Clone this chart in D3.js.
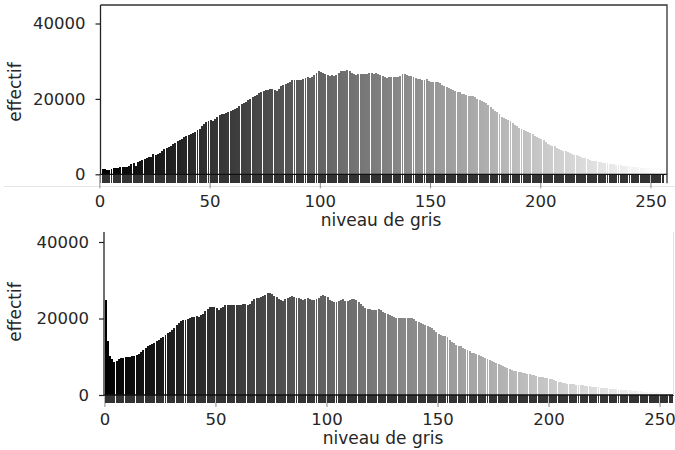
<!DOCTYPE html>
<html>
<head>
<meta charset="utf-8">
<script src="https://cdn.jsdelivr.net/npm/d3@7"></script>
<style>
  body { margin: 0; background: #fff; }
  svg text { font-family: "DejaVu Sans", sans-serif; fill: #262626; }
</style>
</head>
<body>
<svg id="chart" width="675" height="450"></svg>
<script>
// Gray levels 0..255 (one bar per level)
const grayLevels = d3.range(256);

// Pixel counts per gray level, first image
const countsA = [
  1600,1500,1400,1200,1100,1300,1700,1800,1800,1900,2000,2000,2000,2200,2700,2900,
  2300,3200,3500,3800,4000,4300,4500,4600,5300,5100,5400,5600,6300,6700,7000,7300,
  7600,8000,8400,8800,9000,9400,9800,10200,10500,10700,10900,11300,11700,12100,12800,13400,
  13900,14100,14300,14200,14700,15100,15600,16000,16100,16300,16600,16900,17100,17300,17700,18200,
  18600,19000,19300,19700,20000,20400,20800,21100,21500,21900,22200,22300,22400,22600,22500,22400,
  22200,22700,23300,23700,24000,24200,24600,24900,25000,24900,25000,25100,25300,25500,25700,25600,
  25800,26400,27000,27300,27200,26900,26700,26400,26200,26300,26200,26400,26900,27300,27500,27300,
  27600,27400,26800,26500,26400,26600,26700,26700,26500,26700,27000,26800,26500,26800,26700,26400,
  26000,25700,25600,25700,25800,25900,25800,25900,26200,26700,26600,26400,26200,26000,25800,25500,
  25300,25300,25000,25100,25300,24800,24500,24400,24600,24500,24200,23800,23500,23200,23000,22700,
  22400,22200,21900,21700,21400,21200,21000,20900,20800,20700,20400,19900,19600,19400,19200,18900,
  18400,17900,17400,16900,16400,16000,15300,14900,14600,14400,14100,13600,13200,12800,12400,12000,
  11700,11400,11200,10900,10600,10200,9800,9600,9400,9100,8600,8100,7800,7600,7500,7000,
  6700,6400,6300,6100,5900,5700,5500,5200,5000,4800,4600,4400,4200,4000,3800,3600,
  3500,3400,3300,3200,3100,3000,2900,2800,2700,2600,2500,2400,2400,2300,2200,2200,
  2100,2000,2000,1900,1900,1800,1800,1800,1700,1700,1700,1600,1600,1600,1500,1500
];

// Pixel counts per gray level, second image
const countsB = [
  24800,14000,10200,9300,8700,9000,9400,9600,9700,9900,10000,10000,10100,10200,10400,10700,
  11200,11700,12200,12800,13100,13400,13600,14000,14500,14900,15200,15600,16100,16600,16900,17500,
  18300,18900,19300,19600,19700,19800,20100,20400,20500,20600,20500,20900,21300,21900,22500,22900,
  23000,22900,22700,22300,22700,23100,23400,23500,23500,23400,23500,23600,23500,23600,23800,23700,
  23500,23800,24600,25000,25300,25400,25600,25900,26200,26600,26700,26400,26000,25600,25100,24800,
  24500,25000,25400,25700,25800,25600,25400,25300,25100,24900,25100,25300,25200,24900,24800,25000,
  25300,25900,26200,25900,25500,24800,24500,24400,24300,24600,24900,25000,24700,24600,24800,25000,
  25100,24800,24200,23700,23200,22800,22600,22400,22300,22200,22300,22400,22200,21800,21500,21200,
  20900,20600,20400,20200,20200,20200,20200,20200,20200,20200,20100,19800,19400,19200,18900,18500,
  18200,18100,17800,17400,17100,16600,16000,15700,15500,15400,15200,14500,13900,13600,13200,12900,
  12700,12200,11900,11700,11400,11100,10900,10600,10400,10200,9900,9700,9400,9100,8800,8600,
  8300,8000,7800,7500,7300,7100,6800,6500,6300,6200,6000,5900,5800,5700,5600,5500,
  5300,5100,4900,4800,4700,4600,4500,4400,4300,4100,3900,3700,3500,3300,3200,3100,
  3000,2900,2800,2800,2700,2700,2600,2500,2400,2400,2300,2200,2200,2100,2000,1900,
  1800,1800,1700,1600,1600,1500,1500,1400,1400,1300,1300,1200,1200,1100,1100,1000,
  1000,1000,900,900,900,800,800,800,700,700,700,600,600,600,500,500
];

const xTickValues = [0, 50, 100, 150, 200, 250];
const yTickValues = [0, 20000, 40000];
const xLabel = "niveau de gris";
const yLabel = "effectif";

// relative bar width inside each gray-level bin
const barPad = 0.06;

const svg = d3.select("#chart");

// faint edge line under the first panel
svg.append("line")
  .attr("x1", 4).attr("x2", 675).attr("y1", 186.5).attr("y2", 186.5)
  .attr("stroke", "#e4e4e4").attr("stroke-width", 1);

const panels = [
  { id: "a", counts: countsA, left: 100.5, right: 667, xDom: [0.5, 257.5],
    top: 5, zeroY: 174.3, y40k: 23.5, stripH: 9, box: true,
    tickLen: 14, tickPad: 7, yLabelPos: [21, 92], xLabelPos: [381, 226] },
  { id: "b", counts: countsB, left: 104, right: 674, xDom: [-0.2, 256.5],
    top: 232, zeroY: 395, y40k: 242, stripH: 8, box: false,
    tickLen: 12, tickPad: 6, yLabelPos: [21, 312], xLabelPos: [383, 444] }
];

panels.forEach(p => {
  const x = d3.scaleLinear().domain(p.xDom).range([p.left, p.right]);
  const y = d3.scaleLinear().domain([0, 40000]).range([p.zeroY, p.y40k]);
  const bottom = p.zeroY + p.stripH;
  const x0 = d => x(d + barPad);
  const w = d => x(d + 1 - barPad) - x(d + barPad);

  const g = svg.append("g");
  g.append("clipPath").attr("id", "clip-" + p.id)
    .append("rect")
    .attr("x", p.left).attr("y", p.top)
    .attr("width", p.right - p.left).attr("height", bottom - p.top + 1);

  const plot = g.append("g").attr("clip-path", `url(#clip-${p.id})`)
    .attr("shape-rendering", "crispEdges");

  // histogram bars, each filled with its own gray level
  plot.selectAll("rect.bar").data(grayLevels).join("rect")
    .attr("class", "bar")
    .attr("x", x0)
    .attr("width", w)
    .attr("y", d => y(p.counts[d]))
    .attr("height", d => y(0) - y(p.counts[d]))
    .attr("fill", d => `rgb(${d},${d},${d})`);

  // dark base band under the bars
  plot.selectAll("rect.base").data(grayLevels).join("rect")
    .attr("class", "base")
    .attr("x", x0)
    .attr("width", w)
    .attr("y", y(0))
    .attr("height", p.stripH)
    .attr("fill", "#333");

  // zero line
  g.append("line")
    .attr("x1", p.left).attr("x2", p.right)
    .attr("y1", y(0)).attr("y2", y(0))
    .attr("stroke", "#111").attr("stroke-width", 1.3);

  // spines
  g.append("line")
    .attr("x1", p.left).attr("x2", p.left)
    .attr("y1", p.top).attr("y2", y(0))
    .attr("stroke", "#222").attr("stroke-width", 1.3);
  if (p.box) {
    g.append("path")
      .attr("d", `M${p.left},${p.top}H${p.right}V${bottom}`)
      .attr("fill", "none").attr("stroke", "#333").attr("stroke-width", 1.3);
  } else {
    g.append("line")
      .attr("x1", p.right - 0.5).attr("x2", p.right - 0.5)
      .attr("y1", p.top).attr("y2", y(0))
      .attr("stroke", "#e2e2e2").attr("stroke-width", 1);
  }

  // y axis
  const ya = g.append("g").attr("transform", `translate(${p.left},0)`)
    .call(d3.axisLeft(y).tickValues(yTickValues).tickSize(5).tickPadding(10)
      .tickFormat(d3.format("d")));
  ya.select(".domain").remove();
  ya.selectAll(".tick line").attr("stroke", "#222").attr("stroke-width", 1.2);
  ya.selectAll("text").style("font-size", "16.5px");

  // x axis (tick marks drawn beneath the base band)
  const xa = g.insert("g", ":first-child").attr("transform", `translate(0,${y(0)})`)
    .call(d3.axisBottom(x).tickValues(xTickValues).tickSize(p.tickLen).tickPadding(p.tickPad));
  xa.select(".domain").remove();
  xa.selectAll(".tick line").attr("stroke", "#888").attr("stroke-width", 1);
  xa.selectAll("text").style("font-size", "16.5px");

  // axis titles
  g.append("text")
    .attr("transform", `translate(${p.yLabelPos[0]},${p.yLabelPos[1]}) rotate(-90)`)
    .attr("text-anchor", "middle")
    .style("font-size", "17px")
    .text(yLabel);
  g.append("text")
    .attr("x", p.xLabelPos[0]).attr("y", p.xLabelPos[1])
    .attr("text-anchor", "middle")
    .style("font-size", "17px")
    .text(xLabel);
});
</script>
</body>
</html>
